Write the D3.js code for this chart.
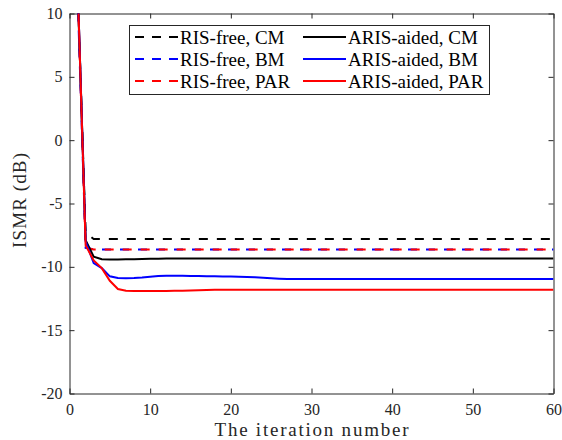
<!DOCTYPE html>
<html><head><meta charset="utf-8">
<script src="https://cdn.jsdelivr.net/npm/d3@7"></script>
<style>body{margin:0;background:#fff}svg{display:block}
text{font-family:"Liberation Serif","DejaVu Serif","Times New Roman",serif;}
</style>
</head><body>
<script>
const iterations = [1,2,3,4,5,6,7,8,9,10,11,12,13,14,15,16,17,18,19,20,21,22,23,24,25,26,27,28,29,30,31,32,33,34,35,36,37,38,39,40,41,42,43,44,45,46,47,48,49,50,51,52,53,54,55,56,57,58,59,60];
const risFreeCM  = [12,-7.3,-7.8,-7.8,-7.8,-7.8,-7.8,-7.8,-7.8,-7.8,-7.8,-7.8,-7.8,-7.8,-7.8,-7.8,-7.8,-7.8,-7.8,-7.8,-7.8,-7.8,-7.8,-7.8,-7.8,-7.8,-7.8,-7.8,-7.8,-7.8,-7.8,-7.8,-7.8,-7.8,-7.8,-7.8,-7.8,-7.8,-7.8,-7.8,-7.8,-7.8,-7.8,-7.8,-7.8,-7.8,-7.8,-7.8,-7.8,-7.8,-7.8,-7.8,-7.8,-7.8,-7.8,-7.8,-7.8,-7.8,-7.8,-7.8];
const risFreeBM  = [11.5,-8.5,-8.63,-8.63,-8.63,-8.63,-8.63,-8.63,-8.63,-8.63,-8.63,-8.63,-8.63,-8.63,-8.63,-8.63,-8.63,-8.63,-8.63,-8.63,-8.63,-8.63,-8.63,-8.63,-8.63,-8.63,-8.63,-8.63,-8.63,-8.63,-8.63,-8.63,-8.63,-8.63,-8.63,-8.63,-8.63,-8.63,-8.63,-8.63,-8.63,-8.63,-8.63,-8.63,-8.63,-8.63,-8.63,-8.63,-8.63,-8.63,-8.63,-8.63,-8.63,-8.63,-8.63,-8.63,-8.63,-8.63,-8.63,-8.63];
const risFreePAR = [12,-8.5,-8.63,-8.63,-8.63,-8.63,-8.63,-8.63,-8.63,-8.63,-8.63,-8.63,-8.63,-8.63,-8.63,-8.63,-8.63,-8.63,-8.63,-8.63,-8.63,-8.63,-8.63,-8.63,-8.63,-8.63,-8.63,-8.63,-8.63,-8.63,-8.63,-8.63,-8.63,-8.63,-8.63,-8.63,-8.63,-8.63,-8.63,-8.63,-8.63,-8.63,-8.63,-8.63,-8.63,-8.63,-8.63,-8.63,-8.63,-8.63,-8.63,-8.63,-8.63,-8.63,-8.63,-8.63,-8.63,-8.63,-8.63,-8.63];
const arisCM  = [12.5,-7.9,-9.2,-9.4,-9.42,-9.42,-9.41,-9.4,-9.38,-9.37,-9.36,-9.35,-9.35,-9.35,-9.35,-9.35,-9.35,-9.35,-9.35,-9.35,-9.35,-9.35,-9.35,-9.35,-9.35,-9.35,-9.35,-9.35,-9.35,-9.35,-9.35,-9.35,-9.35,-9.35,-9.35,-9.35,-9.35,-9.35,-9.35,-9.35,-9.35,-9.35,-9.35,-9.35,-9.35,-9.35,-9.35,-9.35,-9.35,-9.35,-9.35,-9.35,-9.35,-9.35,-9.35,-9.35,-9.35,-9.35,-9.35,-9.35];
const arisBM  = [12.5,-8.0,-9.7,-10.1,-10.75,-10.88,-10.9,-10.88,-10.84,-10.78,-10.73,-10.7,-10.7,-10.71,-10.72,-10.73,-10.74,-10.75,-10.76,-10.77,-10.78,-10.8,-10.83,-10.87,-10.91,-10.94,-10.96,-10.97,-10.97,-10.97,-10.97,-10.97,-10.97,-10.97,-10.97,-10.97,-10.97,-10.97,-10.97,-10.97,-10.97,-10.97,-10.97,-10.97,-10.97,-10.97,-10.97,-10.97,-10.97,-10.97,-10.97,-10.97,-10.97,-10.97,-10.97,-10.97,-10.97,-10.97,-10.97,-10.97];
const arisPAR = [12.5,-8.3,-9.5,-10.1,-11.1,-11.75,-11.88,-11.9,-11.9,-11.9,-11.9,-11.9,-11.89,-11.88,-11.86,-11.84,-11.82,-11.81,-11.8,-11.8,-11.8,-11.8,-11.8,-11.8,-11.8,-11.8,-11.8,-11.8,-11.8,-11.8,-11.8,-11.8,-11.8,-11.8,-11.8,-11.8,-11.8,-11.8,-11.8,-11.8,-11.8,-11.8,-11.8,-11.8,-11.8,-11.8,-11.8,-11.8,-11.8,-11.8,-11.8,-11.8,-11.8,-11.8,-11.8,-11.8,-11.8,-11.8,-11.8,-11.8];
const seriesNames = ["RIS-free, CM","RIS-free, BM","RIS-free, PAR","ARIS-aided, CM","ARIS-aided, BM","ARIS-aided, PAR"];
const xTicks = [0,10,20,30,40,50,60];
const yTicks = [-20,-15,-10,-5,0,5,10];

const series = [
  {name: seriesNames[0], values: risFreeCM,  color: "#000000", dashed: true,  offset: 0},
  {name: seriesNames[1], values: risFreeBM,  color: "#0000ff", dashed: true,  offset: 0},
  {name: seriesNames[2], values: risFreePAR, color: "#ff0000", dashed: true,  offset: 9},
  {name: seriesNames[3], values: arisCM,  color: "#000000", dashed: false, offset: 0},
  {name: seriesNames[4], values: arisBM,  color: "#0000ff", dashed: false, offset: 0},
  {name: seriesNames[5], values: arisPAR, color: "#ff0000", dashed: false, offset: 0}
];

const W = 562, H = 440;
const L = 69.5, R = 553.5, T = 13.5, B = 393.5;
const font = '"Liberation Serif","DejaVu Serif","Times New Roman",serif';
const axisColor = "#262626";

const svg = d3.select("body").append("svg").attr("width", W).attr("height", H);
const x = d3.scaleLinear().domain([0, 60]).range([L, R]);
const y = d3.scaleLinear().domain([-20, 10]).range([B, T]);

svg.append("defs").append("clipPath").attr("id","clip")
  .append("rect").attr("x", L).attr("y", T).attr("width", R-L).attr("height", B-T);

const fmt = d => String(d);
const gx = svg.append("g").attr("transform", `translate(0,${B})`)
  .call(d3.axisBottom(x).tickValues(xTicks).tickFormat(fmt).tickSizeInner(-5).tickSizeOuter(0).tickPadding(10));
const gxTop = svg.append("g").attr("transform", `translate(0,${T})`)
  .call(d3.axisTop(x).tickValues(xTicks).tickFormat("").tickSizeInner(-5).tickSizeOuter(0));
const gy = svg.append("g").attr("transform", `translate(${L},0)`)
  .call(d3.axisLeft(y).tickValues(yTicks).tickFormat(fmt).tickSizeInner(-5).tickSizeOuter(0).tickPadding(7));
const gyR = svg.append("g").attr("transform", `translate(${R},0)`)
  .call(d3.axisRight(y).tickValues(yTicks).tickFormat("").tickSizeInner(-5).tickSizeOuter(0));
[gx, gxTop, gy, gyR].forEach(g => {
  g.attr("font-family", null).attr("font-size", null);
  g.select(".domain").attr("stroke", axisColor);
  g.selectAll(".tick line").attr("stroke", axisColor);
  g.selectAll("text").attr("fill", axisColor).attr("font-family", font).style("font-family", font).style("font-size", "16px");
});

const line = d3.line().x((d, i) => x(iterations[i])).y(d => y(d));
const gl = svg.append("g").attr("clip-path", "url(#clip)");
series.forEach(s => {
  gl.append("path").datum(s.values)
    .attr("d", line)
    .attr("fill", "none")
    .attr("stroke", s.color)
    .attr("stroke-width", 2)
    .attr("stroke-dasharray", s.dashed ? "9,9" : null)
    .attr("stroke-dashoffset", s.offset);
});

svg.append("text").attr("x", (L+R)/2).attr("y", 436)
  .attr("text-anchor", "middle").attr("fill", axisColor)
  .style("font-family", font).style("font-size", "19px")
  .attr("textLength", 194).attr("lengthAdjust", "spacing")
  .text("The iteration number");
svg.append("text").attr("transform", `translate(26,${(T+B)/2 - 3}) rotate(-90)`)
  .attr("text-anchor", "middle").attr("fill", axisColor)
  .style("font-family", font).style("font-size", "19px")
  .attr("textLength", 95).attr("lengthAdjust", "spacing")
  .text("ISMR (dB)");

const lg = svg.append("g");
lg.append("rect").attr("x", 129.5).attr("y", 25.5).attr("width", 360).attr("height", 69)
  .attr("fill", "#fff").attr("stroke", axisColor).attr("stroke-width", 1);
const rowsY = [37, 59, 81];
const colX = [135, 303];
series.forEach((s, i) => {
  const col = i < 3 ? 0 : 1, row = i % 3;
  const cx = colX[col], cy = rowsY[row];
  lg.append("line").attr("x1", cx).attr("x2", cx + 43).attr("y1", cy).attr("y2", cy)
    .attr("stroke", s.color).attr("stroke-width", 2)
    .attr("stroke-dasharray", s.dashed ? "9,8" : null);
  lg.append("text").attr("x", cx + 45).attr("y", cy + 6.5)
    .attr("fill", "#000")
    .style("font-family", font).style("font-size", "19px")
    .text(s.name);
});
</script>
</body></html>
